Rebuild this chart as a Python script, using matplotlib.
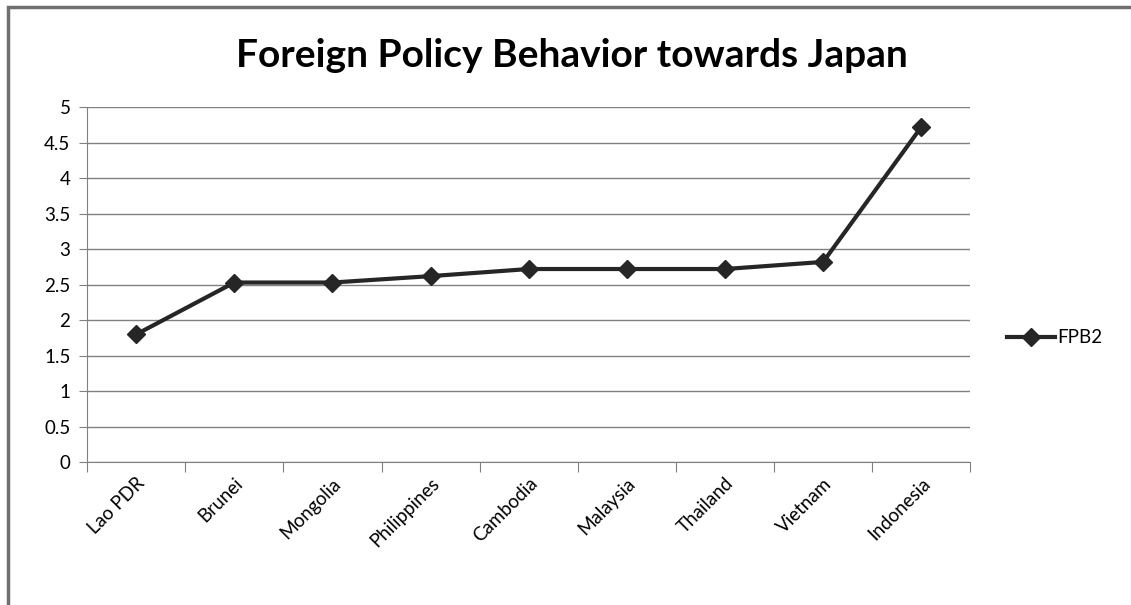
import matplotlib.pyplot as plt
import numpy as np
from matplotlib.patches import Rectangle

countries = ['Lao PDR', 'Brunei', 'Mongolia', 'Philippines', 'Cambodia',
             'Malaysia', 'Thailand', 'Vietnam', 'Indonesia']
fpb2 = [1.8, 2.53, 2.53, 2.62, 2.72, 2.72, 2.72, 2.82, 4.72]
yticks = [0, 0.5, 1, 1.5, 2, 2.5, 3, 3.5, 4, 4.5, 5]

plt.rcParams['font.family'] = ['Lato', 'DejaVu Sans']

fig = plt.figure(figsize=(11.31, 6.05), dpi=100)
ax = fig.add_axes([0.077, 0.236, 0.781, 0.587])

x = np.arange(len(countries))
ax.plot(x, fpb2, color='#262626', lw=3, marker='D', ms=9, label='FPB2')

ax.set_xlim(-0.5, len(countries) - 0.5)
ax.set_ylim(0, 5)
ax.set_yticks(yticks)
ax.set_yticklabels([f'{v:g}' for v in yticks], fontsize=13.5)
ax.yaxis.grid(True, color='#808080', lw=1)
ax.set_axisbelow(True)

# category ticks sit between the points
ax.set_xticks(np.arange(-0.5, len(countries), 1))
ax.set_xticklabels([])
ax.set_xticks(x, minor=True)
ax.set_xticklabels(countries, minor=True, rotation=45, ha='right',
                   rotation_mode='anchor', fontsize=13.5)
ax.tick_params(axis='x', which='minor', length=0, pad=9)
ax.tick_params(axis='x', which='major', length=7, color='#808080')
ax.tick_params(axis='y', length=6, color='#808080', pad=6)

for s in ['top', 'right']:
    ax.spines[s].set_visible(False)
for s in ['left', 'bottom']:
    ax.spines[s].set_color('#808080')

fig.text(0.506, 0.908, 'Foreign Policy Behavior towards Japan',
         ha='center', va='center', fontsize=28, fontweight='bold')

ax.legend(loc='center left', bbox_to_anchor=(1.022, 0.35), frameon=False,
          fontsize=13.5, handlelength=2.6, handletextpad=0.1)

# outer chart frame
fig.patches.append(Rectangle((0.007, -0.02), 1.1, 1.008, transform=fig.transFigure,
                             fill=False, ec='#707070', lw=2.5))

fig.savefig('out.png', dpi=100)
